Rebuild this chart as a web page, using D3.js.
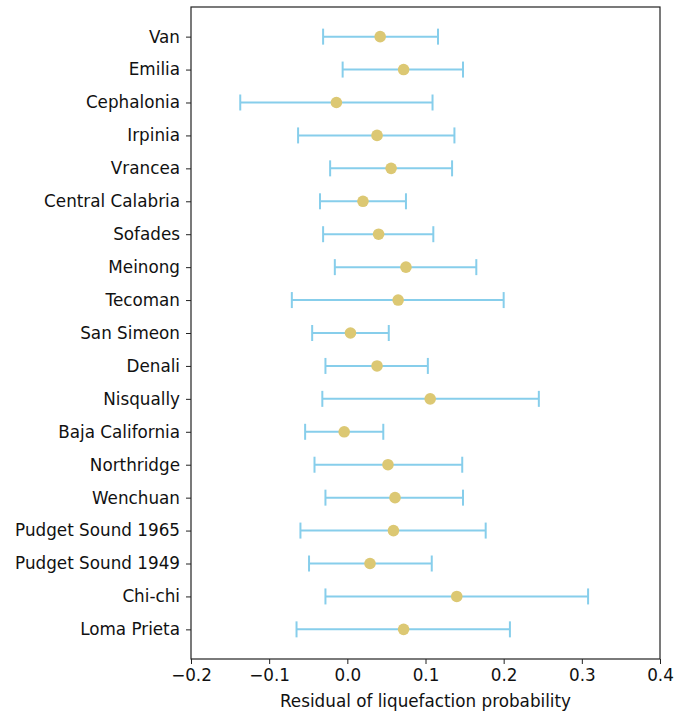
<!DOCTYPE html>
<html><head><meta charset="utf-8">
<script src="https://d3js.org/d3.v7.min.js"></script>
<style>body{margin:0;background:#fff;} text{font-family:"DejaVu Sans",sans-serif;}</style>
</head><body>
<script>
const categories = ["Van","Emilia","Cephalonia","Irpinia","Vrancea","Central Calabria","Sofades","Meinong","Tecoman","San Simeon","Denali","Nisqually","Baja California","Northridge","Wenchuan","Pudget Sound 1965","Pudget Sound 1949","Chi-chi","Loma Prieta"];
const means = [0.042,0.072,-0.014,0.038,0.056,0.020,0.040,0.075,0.065,0.004,0.038,0.106,-0.004,0.052,0.061,0.059,0.029,0.140,0.072];
const lower = [-0.031,-0.006,-0.137,-0.063,-0.022,-0.035,-0.031,-0.016,-0.071,-0.045,-0.028,-0.032,-0.054,-0.042,-0.028,-0.060,-0.049,-0.028,-0.065];
const upper = [0.116,0.148,0.109,0.137,0.134,0.075,0.110,0.165,0.200,0.053,0.103,0.245,0.046,0.147,0.148,0.177,0.108,0.308,0.208];
const xTicks = [-0.2,-0.1,0.0,0.1,0.2,0.3,0.4];

const W=674,H=713, L=191, R=660, T=7, B=659;
const FS=16.8;
const svg=d3.select("body").append("svg").attr("width",W).attr("height",H);
const x=d3.scaleLinear().domain([-0.2,0.4]).range([L,R]);
const y=d3.scaleLinear().domain([-0.9,categories.length-1+0.9]).range([T,B]);

const xAxis=d3.axisBottom(x).tickValues(xTicks).tickSize(5).tickPadding(5)
  .tickFormat(d=>d3.format(".1f")(d).replace("-","\u2212"));
const gx=svg.append("g").attr("transform",`translate(0,${B})`).call(xAxis);
gx.select(".domain").remove();
gx.selectAll("text").attr("font-size",FS).attr("fill","#111");
gx.selectAll("line").attr("stroke","#222");

const yAxis=d3.axisLeft(y).tickValues(d3.range(categories.length)).tickSize(5).tickPadding(6)
  .tickFormat(i=>categories[i]);
const gy=svg.append("g").attr("transform",`translate(${L},0)`).call(yAxis);
gy.select(".domain").remove();
gy.selectAll("text").attr("font-size",FS).attr("fill","#111");
gy.selectAll("line").attr("stroke","#222");

const data=categories.map((c,i)=>({c,i,m:means[i],lo:lower[i],hi:upper[i]}));
const g=svg.append("g");
const cap=8, col="#87CEEB";
g.selectAll(".bar").data(data).join("line").attr("x1",d=>x(d.lo)).attr("x2",d=>x(d.hi))
  .attr("y1",d=>y(d.i)).attr("y2",d=>y(d.i)).attr("stroke",col).attr("stroke-width",2);
g.selectAll(".capl").data(data).join("line").attr("x1",d=>x(d.lo)).attr("x2",d=>x(d.lo))
  .attr("y1",d=>y(d.i)-cap).attr("y2",d=>y(d.i)+cap).attr("stroke",col).attr("stroke-width",2);
g.selectAll(".capr").data(data).join("line").attr("x1",d=>x(d.hi)).attr("x2",d=>x(d.hi))
  .attr("y1",d=>y(d.i)-cap).attr("y2",d=>y(d.i)+cap).attr("stroke",col).attr("stroke-width",2);
g.selectAll("circle").data(data).join("circle").attr("cx",d=>x(d.m)).attr("cy",d=>y(d.i))
  .attr("r",5.8).attr("fill","#dcc873");

svg.append("rect").attr("x",L).attr("y",T).attr("width",R-L).attr("height",B-T)
  .attr("fill","none").attr("stroke","#222").attr("stroke-width",1.2);

svg.append("text").attr("x",(L+R)/2).attr("y",707).attr("text-anchor","middle")
  .attr("font-size",FS).attr("fill","#111").text("Residual of liquefaction probability");
</script>
</body></html>
